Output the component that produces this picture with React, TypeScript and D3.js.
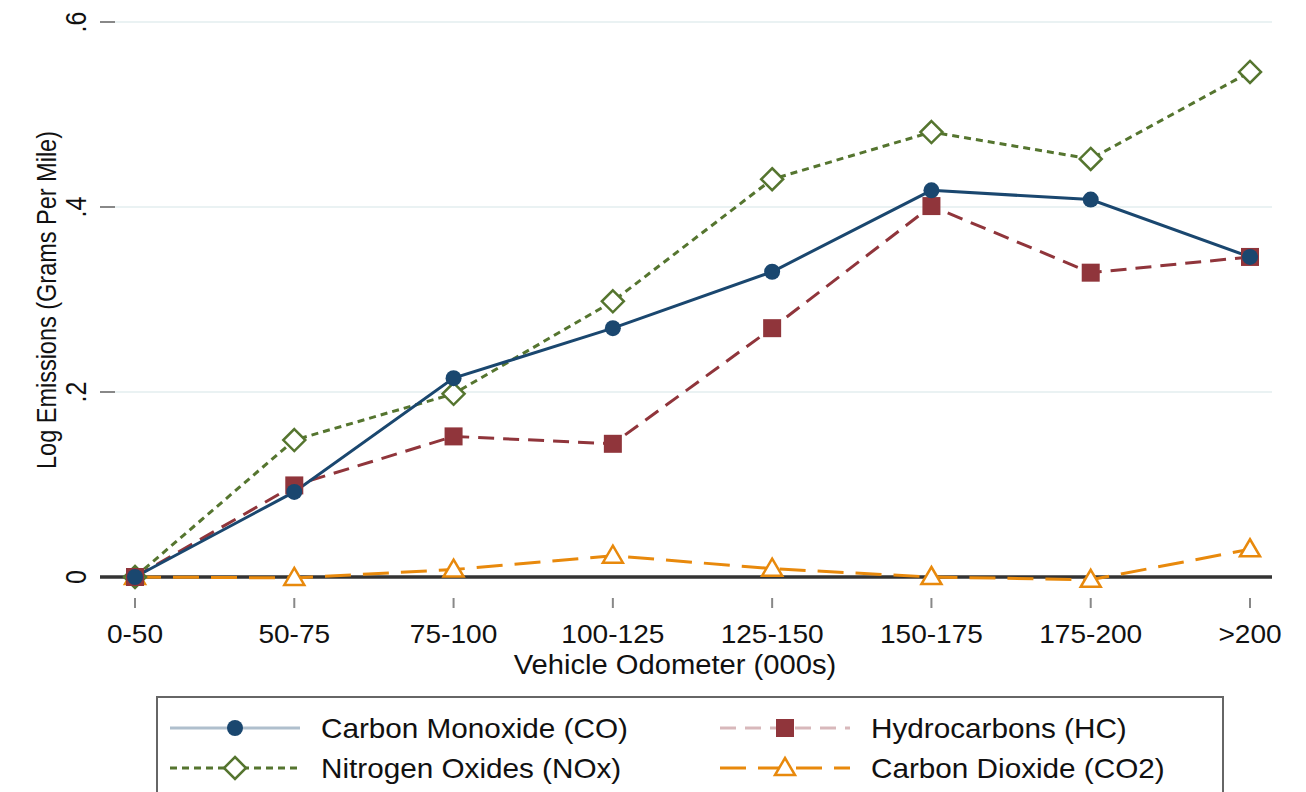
import React, { useEffect, useRef } from 'react';
import * as d3 from 'd3';

const categories = ['0-50', '50-75', '75-100', '100-125', '125-150', '150-175', '175-200', '>200'];
const coValues = [0, 0.092, 0.215, 0.269, 0.33, 0.418, 0.408, 0.346];
const hcValues = [0, 0.099, 0.152, 0.144, 0.269, 0.401, 0.329, 0.346];
const noxValues = [0, 0.148, 0.198, 0.298, 0.43, 0.481, 0.452, 0.546];
const co2Values = [0, -0.001, 0.008, 0.023, 0.009, 0, -0.003, 0.03];
const yTicks = [0, 0.2, 0.4, 0.6];
const yTickLabels = ['0', '.2', '.4', '.6'];

interface Series {
  name: string;
  values: number[];
  color: string;
  dash: string;
  marker: 'circle' | 'square' | 'diamond' | 'triangle';
  keyOpacity: number;
}

const series: Series[] = [
  { name: 'Carbon Monoxide (CO)', values: coValues, color: '#1a476f', dash: '', marker: 'circle', keyOpacity: 0.35 },
  { name: 'Hydrocarbons (HC)', values: hcValues, color: '#90353b', dash: '16,9', marker: 'square', keyOpacity: 0.35 },
  { name: 'Nitrogen Oxides (NOx)', values: noxValues, color: '#55752f', dash: '7,5', marker: 'diamond', keyOpacity: 1 },
  { name: 'Carbon Dioxide (CO2)', values: co2Values, color: '#e8890c', dash: '26,12', marker: 'triangle', keyOpacity: 1 },
];

const width = 1306;
const height = 792;
const font = '"Liberation Sans", Arial, sans-serif';
// the source picture is a little stretched sideways
const stretch = 1.08;

function drawMarker(g: d3.Selection<SVGGElement, unknown, null, undefined>, type: string, x: number, y: number, color: string) {
  if (type === 'circle') {
    g.append('circle').attr('cx', x).attr('cy', y).attr('r', 8).attr('fill', color);
  } else if (type === 'square') {
    g.append('rect').attr('x', x - 9).attr('y', y - 9).attr('width', 18).attr('height', 18).attr('fill', color);
  } else if (type === 'diamond') {
    g.append('path')
      .attr('d', `M${x},${y - 11}L${x + 11},${y}L${x},${y + 11}L${x - 11},${y}Z`)
      .attr('fill', 'white').attr('stroke', color).attr('stroke-width', 2.5);
  } else {
    g.append('path')
      .attr('d', `M${x},${y - 10}L${x + 10},${y + 7}L${x - 10},${y + 7}Z`)
      .attr('fill', 'white').attr('stroke', color).attr('stroke-width', 2.5);
  }
}

const App: React.FC = () => {
  const svgRef = useRef<SVGSVGElement>(null);

  useEffect(() => {
    if (!svgRef.current) return;
    const svg = d3.select(svgRef.current);
    svg.selectAll('*').remove();

    const xScale = d3.scalePoint<string>().domain(categories).range([135, 1250]);
    const yScale = d3.scaleLinear().domain([0, 0.6]).range([577, 22]);
    const plotLeft = 115;
    const plotRight = 1272;

    // gridlines
    svg.append('g').selectAll('line')
      .data(yTicks.filter(t => t !== 0))
      .join('line')
      .attr('x1', plotLeft).attr('x2', plotRight)
      .attr('y1', d => yScale(d)).attr('y2', d => yScale(d))
      .attr('stroke', '#eaf2f3').attr('stroke-width', 2);

    // y axis ticks and labels
    const yAxis = svg.append('g');
    yAxis.selectAll('line')
      .data(yTicks)
      .join('line')
      .attr('x1', 100).attr('x2', 115)
      .attr('y1', d => yScale(d)).attr('y2', d => yScale(d))
      .attr('stroke', '#888').attr('stroke-width', 2);
    yAxis.selectAll('text')
      .data(yTicks)
      .join('text')
      .attr('transform', d => `translate(86,${yScale(d)}) rotate(-90) scale(1,1.15)`)
      .attr('text-anchor', 'middle')
      .style('font-family', font)
      .style('font-size', '25px')
      .style('fill', '#111')
      .text((d, i) => yTickLabels[i]);

    svg.append('text')
      .attr('transform', `translate(56,300) rotate(-90) scale(1,1.2)`)
      .attr('text-anchor', 'middle')
      .style('font-family', font)
      .style('font-size', '23.5px')
      .style('fill', '#111')
      .text('Log Emissions (Grams Per Mile)');

    // zero line
    svg.append('line')
      .attr('x1', 100).attr('x2', plotRight)
      .attr('y1', yScale(0)).attr('y2', yScale(0))
      .attr('stroke', '#333').attr('stroke-width', 3.5);

    // x axis ticks and labels
    const xAxis = svg.append('g');
    xAxis.selectAll('line')
      .data(categories)
      .join('line')
      .attr('x1', d => xScale(d) || 0).attr('x2', d => xScale(d) || 0)
      .attr('y1', 598).attr('y2', 608)
      .attr('stroke', '#888').attr('stroke-width', 2);
    xAxis.selectAll('text')
      .data(categories)
      .join('text')
      .attr('transform', d => `translate(${xScale(d) || 0},643) scale(${stretch},1)`)
      .attr('text-anchor', 'middle')
      .style('font-family', font)
      .style('font-size', '26px')
      .style('fill', '#111')
      .text(d => d);

    svg.append('text')
      .attr('transform', `translate(675,674) scale(${stretch},1)`)
      .attr('text-anchor', 'middle')
      .style('font-family', font)
      .style('font-size', '27px')
      .style('fill', '#111')
      .text('Vehicle Odometer (000s)');

    // series lines
    const line = d3.line<number>()
      .x((d, i) => xScale(categories[i]) || 0)
      .y(d => yScale(d));

    const drawOrder = [3, 2, 1, 0];
    drawOrder.forEach(si => {
      const s = series[si];
      svg.append('path')
        .datum(s.values)
        .attr('d', line)
        .attr('fill', 'none')
        .attr('stroke', s.color)
        .attr('stroke-width', 3)
        .attr('stroke-dasharray', s.dash || null);
    });
    drawOrder.forEach(si => {
      const s = series[si];
      const mg = svg.append('g');
      s.values.forEach((v, i) => drawMarker(mg, s.marker, xScale(categories[i]) || 0, yScale(v), s.color));
    });

    // legend
    const legend = svg.append('g');
    legend.append('rect')
      .attr('x', 157).attr('y', 697)
      .attr('width', 1066).attr('height', 120)
      .attr('fill', 'white').attr('stroke', '#666').attr('stroke-width', 2);

    series.forEach((s, i) => {
      const col = i % 2;
      const row = Math.floor(i / 2);
      const kx = col === 0 ? 170 : 720;
      const ky = row === 0 ? 728 : 768;
      const row_g = legend.append('g');
      row_g.append('line')
        .attr('x1', kx).attr('x2', kx + 130)
        .attr('y1', ky).attr('y2', ky)
        .attr('stroke', s.color)
        .attr('stroke-opacity', s.keyOpacity)
        .attr('stroke-width', 3)
        .attr('stroke-dasharray', s.dash || null);
      drawMarker(row_g, s.marker, kx + 65, ky, s.color);
      row_g.append('text')
        .attr('transform', `translate(${kx + 151},${ky + 10}) scale(${stretch},1)`)
        .style('font-family', font)
        .style('font-size', '27.5px')
        .style('fill', '#111')
        .text(s.name);
    });
  }, []);

  return (
    <svg
      ref={svgRef}
      width={width}
      height={height}
      style={{ position: 'absolute', left: 0, top: 0, background: 'white' }}
    ></svg>
  );
};

export default App;
